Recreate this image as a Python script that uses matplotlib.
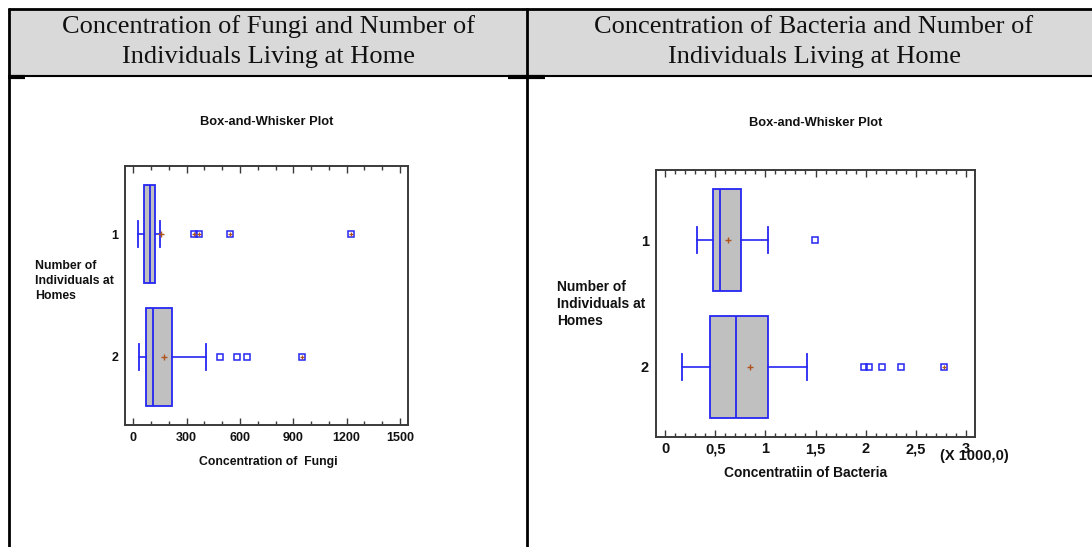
import matplotlib
matplotlib.use("Agg")
import matplotlib.pyplot as plt
from matplotlib.lines import Line2D
from matplotlib.patches import Rectangle
from matplotlib.ticker import MultipleLocator

# ---------------- data ----------------
groups = ["1", "2"]

# Fungi (left chart)
fungi_q1 = [60, 70]
fungi_med = [94, 113]
fungi_q3 = [122, 217]
fungi_whislo = [28, 34]
fungi_whishi = [150, 407]
fungi_mean = [156, 173]
fungi_near_out = [[], [488, 581, 641]]
fungi_far_out = [[341, 370, 544, 1224], [949]]
fungi_ticks = [0, 300, 600, 900, 1200, 1500]

# Bacteria (right chart, in thousands)
bact_q1 = [0.482, 0.449]
bact_med = [0.548, 0.708]
bact_q3 = [0.754, 1.023]
bact_whislo = [0.316, 0.169]
bact_whishi = [1.023, 1.415]
bact_mean = [0.625, 0.847]
bact_near_out = [[1.498], [1.983, 2.030, 2.159, 2.355]]
bact_far_out = [[], [2.777]]
bact_ticks = [0, 0.5, 1, 1.5, 2, 2.5, 3]
bact_tick_labels = ["0", "0,5", "1", "1,5", "2", "2,5", "3"]

header_left = "Concentration of Fungi and Number of\nIndividuals Living at Home"
header_right = "Concentration of Bacteria and Number of\nIndividuals Living at Home"

# ---------------- figure ----------------
W, H = 1092, 547
fig = plt.figure(figsize=(W / 100, H / 100), dpi=100)
fig.patch.set_facecolor("white")

def fx(px):
    return px / W

def fy(py):
    return 1 - py / H

SANS = "Liberation Sans"
SERIF = "Liberation Serif"
BLUE = "#2626f2"
BROWN = "#b0541e"
GRAY = "#c0c0c0"

# table header background and borders
fig.patches.append(Rectangle((fx(8), fy(76)), fx(1092) - fx(8), fy(9) - fy(76),
                             transform=fig.transFigure, facecolor="#d9d9d9",
                             edgecolor="none", zorder=0))
def fline(x0, y0, x1, y1, lw=2.0):
    fig.lines.append(Line2D([fx(x0), fx(x1)], [fy(y0), fy(y1)], transform=fig.transFigure,
                            color="black", lw=lw, solid_capstyle="butt"))

fline(8, 9, 1092, 9)
fline(8, 76, 1092, 76, lw=1.5)
fline(8.5, 8, 8.5, 547)
fline(526.5, 8, 526.5, 547)
fline(8, 76.5, 25, 76.5, lw=3)
fline(508, 76.5, 545, 76.5, lw=3)

fig.text(fx(268), fy(27), header_left.split("\n")[0], ha="center", va="center",
         family=SERIF, fontsize=19, color="#111111")
fig.text(fx(268), fy(57), header_left.split("\n")[1], ha="center", va="center",
         family=SERIF, fontsize=19, color="#111111")
fig.text(fx(814), fy(27), header_right.split("\n")[0], ha="center", va="center",
         family=SERIF, fontsize=19, color="#111111")
fig.text(fx(814), fy(57), header_right.split("\n")[1], ha="center", va="center",
         family=SERIF, fontsize=19, color="#111111")


def draw_box(ax, q1, med, q3, lo, hi, mean, near, far):
    stats = []
    for i in range(len(q1)):
        stats.append(dict(q1=q1[i], med=med[i], q3=q3[i], whislo=lo[i], whishi=hi[i],
                          mean=mean[i], fliers=[]))
    ax.bxp(stats, positions=[1, 2], orientation="horizontal", widths=0.8,
           patch_artist=True, showmeans=True, showfliers=False, capwidths=0.21,
           boxprops=dict(facecolor=GRAY, edgecolor=BLUE, lw=1.3),
           medianprops=dict(color=BLUE, lw=1.3),
           whiskerprops=dict(color=BLUE, lw=1.2),
           capprops=dict(color=BLUE, lw=1.3),
           meanprops=dict(marker="+", markeredgecolor=BROWN, markersize=5, mew=1.0))
    for i in range(len(q1)):
        pos = i + 1
        if near[i]:
            ax.plot(near[i], [pos] * len(near[i]), ls="none", marker="s", markersize=3.8,
                    mfc="none", mec=BLUE, mew=1.1, zorder=5)
        if far[i]:
            ax.plot(far[i], [pos] * len(far[i]), ls="none", marker="s", markersize=3.8,
                    mfc="none", mec=BLUE, mew=1.1, zorder=5)
            ax.plot(far[i], [pos] * len(far[i]), ls="none", marker="+", markersize=3.5,
                    mec=BROWN, mew=0.9, zorder=6)


def style_axes(ax, xlim, minor, fs, pad):
    ax.set_xlim(*xlim)
    ax.set_ylim(2.553, 0.447)
    for s in ax.spines.values():
        s.set_color("#3a3a3a")
        s.set_linewidth(1.4)
    ax.xaxis.set_minor_locator(MultipleLocator(minor))
    ax.tick_params(axis="x", which="both", direction="in", top=True, bottom=True,
                   color="#3a3a3a", width=1.0)
    ax.tick_params(axis="x", which="major", length=5, pad=pad)
    ax.tick_params(axis="x", which="minor", length=3)
    ax.tick_params(axis="y", length=0, pad=5)
    ax.set_yticks([1, 2])
    ax.set_yticklabels(groups)
    for lab in ax.get_xticklabels():
        lab.set_verticalalignment("baseline")
    for lab in ax.get_xticklabels() + ax.get_yticklabels():
        lab.set_family(SANS)
        lab.set_fontweight("bold")
        lab.set_fontsize(fs)
        lab.set_color("#111111")


# ---------------- left chart ----------------
axL = fig.add_axes([fx(125), fy(425), fx(408) - fx(125), fy(166) - fy(425)])
draw_box(axL, fungi_q1, fungi_med, fungi_q3, fungi_whislo, fungi_whishi, fungi_mean,
         fungi_near_out, fungi_far_out)
axL.set_xticks(fungi_ticks)
axL.set_xticklabels([str(t) for t in fungi_ticks])
style_axes(axL, (-47, 1545), 100, 9, 11.8)

fig.text(fx(267), fy(122), "Box-and-Whisker Plot", ha="center", va="center",
         family=SANS, fontweight="bold", fontsize=9.3, color="#111111")
fig.text(fx(268), fy(462), "Concentration of  Fungi", ha="center", va="center",
         family=SANS, fontweight="bold", fontsize=8.8, color="#111111")
fig.text(fx(35), fy(281), "Number of\nIndividuals at\nHomes", ha="left", va="center",
         family=SANS, fontweight="bold", fontsize=8.8, linespacing=1.38, color="#111111")

# ---------------- right chart ----------------
axR = fig.add_axes([fx(656), fy(437), fx(975) - fx(656), fy(170) - fy(437)])
draw_box(axR, bact_q1, bact_med, bact_q3, bact_whislo, bact_whishi, bact_mean,
         bact_near_out, bact_far_out)
axR.set_xticks(bact_ticks)
axR.set_xticklabels(bact_tick_labels)
style_axes(axR, (-0.09, 3.09), 0.1, 10.5, 11.8)

fig.text(fx(816), fy(123), "Box-and-Whisker Plot", ha="center", va="center",
         family=SANS, fontweight="bold", fontsize=9.3, color="#111111")
fig.text(fx(806), fy(473), "Concentratiin of Bacteria", ha="center", va="center",
         family=SANS, fontweight="bold", fontsize=9.9, color="#111111")
fig.text(fx(974), fy(456), "(X 1000,0)", ha="center", va="center",
         family=SANS, fontweight="bold", fontsize=10.5, color="#111111")
fig.text(fx(557), fy(304), "Number of\nIndividuals at\nHomes", ha="left", va="center",
         family=SANS, fontweight="bold", fontsize=9.9, linespacing=1.25, color="#111111")

fig.savefig("out.png", dpi=100, facecolor="white")
